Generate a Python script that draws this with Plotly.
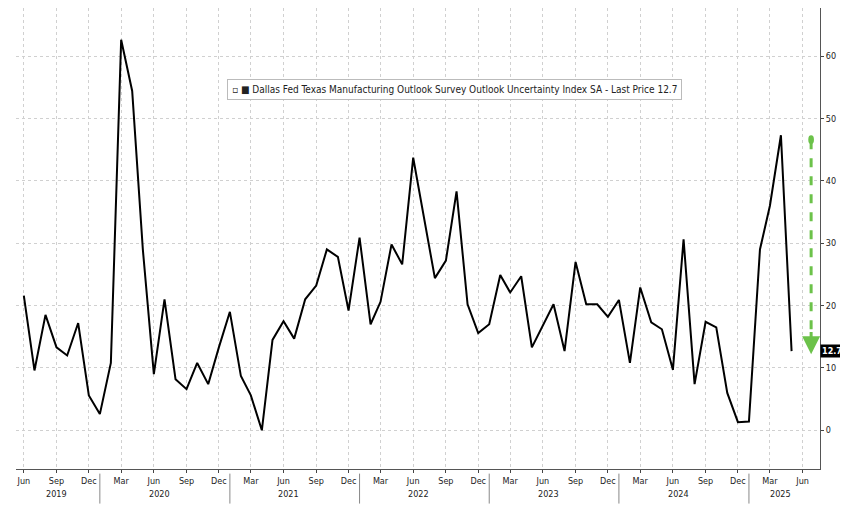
import plotly.graph_objects as go
import pandas as pd

values = [21.6, 9.6, 18.5, 13.3, 12.0, 17.2, 5.6,
          2.6, 10.8, 62.6, 54.4, 29.0, 9.0, 21.0, 8.2, 6.6, 10.8, 7.4, 13.3,
          19.0, 8.7, 5.6, 0.0, 14.5, 17.5, 14.7, 21.0, 23.2, 29.0, 27.8, 19.2,
          30.9, 17.0, 20.6, 29.8, 26.6, 43.7, 34.5, 24.4, 27.2, 38.3, 20.2, 15.6,
          17.0, 24.9, 22.1, 24.7, 13.3, 16.7, 20.2, 12.7, 27.0, 20.2, 20.2, 18.2,
          20.9, 10.8, 22.9, 17.3, 16.2, 9.7, 30.6, 7.4, 17.4, 16.5, 6.0, 1.3,
          1.4, 29.0, 36.0, 47.3, 12.7]
dates = pd.date_range("2019-06-01", periods=len(values), freq="MS")
month_ticks = pd.date_range("2019-06-01", "2025-06-01", freq="3MS")
month_names = {3: "Mar", 6: "Jun", 9: "Sep", 12: "Dec"}
years = [2019, 2020, 2021, 2022, 2023, 2024, 2025]
year_pos = ["2019-09-01", "2020-06-16", "2021-06-16", "2022-06-16", "2023-06-16", "2024-06-16", "2025-04-01"]
last = values[-1]

fig = go.Figure()
fig.add_trace(go.Scatter(x=dates, y=values, mode="lines",
                         line=dict(color="black", width=2), showlegend=False))
ax_x = pd.Timestamp("2025-06-25")
fig.add_trace(go.Scatter(x=[ax_x] * 2, y=[46.5, 15.0], mode="lines",
                         line=dict(color="#6cc24a", width=3, dash="dash"), showlegend=False))
fig.add_annotation(x=ax_x, y=12.2, ax=ax_x, ay=16, axref="x", ayref="y", showarrow=True,
                   arrowhead=2, arrowsize=1.2, arrowwidth=3, arrowcolor="#6cc24a", text="")
fig.add_shape(type="circle", xref="x", yref="y", x0=pd.Timestamp("2025-06-17"), x1=pd.Timestamp("2025-07-03"),
              y0=45.9, y1=47.3, fillcolor="#6cc24a", line_width=0)

fig.add_annotation(xref="paper", yref="y", x=1.0, y=last, xanchor="left", text="<b>12.7</b>",
                   showarrow=False, bgcolor="black", font=dict(color="white", size=9),
                   borderpad=1)
fig.add_annotation(xref="paper", yref="paper", x=0.545, y=0.845,
                   text="▫ ■ Dallas Fed Texas Manufacturing Outlook Survey Outlook Uncertainty Index SA - Last Price 12.7",
                   showarrow=False, font=dict(size=10, color="#222"), bgcolor="white",
                   bordercolor="#bbb", borderwidth=1, borderpad=4)
for yr, xp in zip(years, year_pos):
    fig.add_annotation(x=pd.Timestamp(xp), y=-0.04, xref="x", yref="paper", text=str(yr),
                       showarrow=False, yanchor="top", font=dict(size=9, color="#222"))
for yr in years[1:]:
    fig.add_shape(type="line", xref="x", yref="paper", x0=pd.Timestamp(f"{yr}-01-01"),
                  x1=pd.Timestamp(f"{yr}-01-01"), y0=-0.01, y1=-0.075,
                  line=dict(color="#888", width=1))

fig.update_layout(
    width=848, height=505, paper_bgcolor="white", plot_bgcolor="white",
    margin=dict(l=8, r=36, t=0, b=44),
    font=dict(family="DejaVu Sans Condensed, DejaVu Sans", size=9, color="#222"),
    xaxis=dict(range=[pd.Timestamp("2019-05-10"), pd.Timestamp("2025-07-20")],
               tickvals=list(month_ticks), ticktext=[month_names[d.month] for d in month_ticks],
               showgrid=True, gridcolor="#d0d0d0", griddash="dot", ticks="outside",
               ticklen=3, ticklabelstandoff=0, showline=True, linecolor="#555", tickfont=dict(size=9)),
    yaxis=dict(side="right", range=[-6.2, 67.7], tickvals=[0, 10, 20, 30, 40, 50, 60],
               showgrid=True, gridcolor="#d0d0d0", griddash="dot", zeroline=False,
               ticks="outside", ticklen=3, showline=True, linecolor="#555", tickfont=dict(size=9)),
)
fig.write_html("out.html")
